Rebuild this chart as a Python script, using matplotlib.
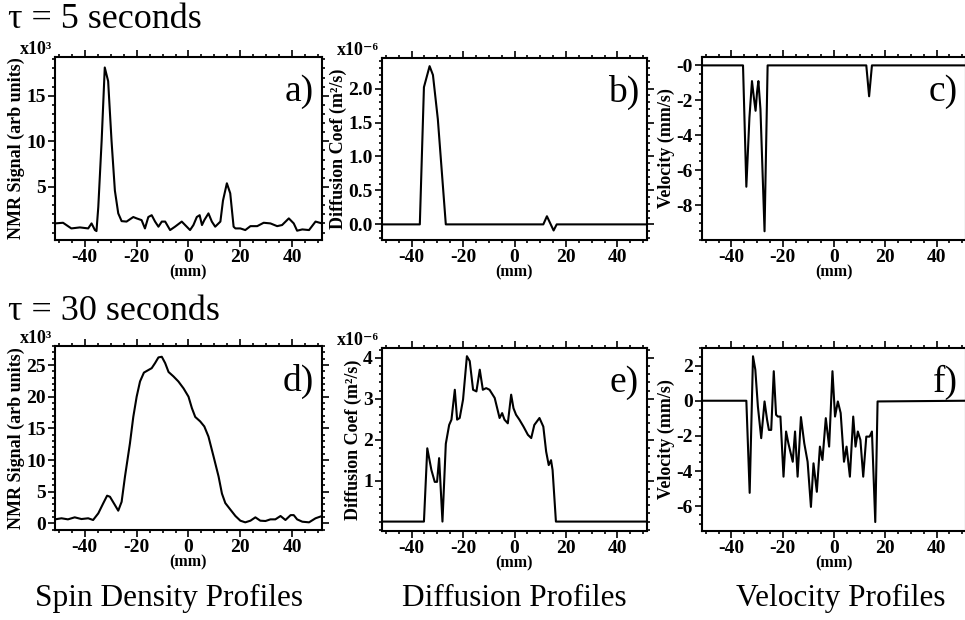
import matplotlib
matplotlib.use("Agg")
import matplotlib.pyplot as plt
from matplotlib.ticker import MultipleLocator

plt.rcParams['font.family'] = ['Liberation Serif', 'DejaVu Serif']
plt.rcParams['axes.unicode_minus'] = False

W, H = 965, 620
XLIM = (-51.5, 51.5)
x_ticks = [-40, -20, 0, 20, 40]
x_tick_labels = ["-40", "-20", "0", "20", "40"]

# ─── a) densidade de spin, tau = 5 s (x10^3) ─────────────────
a_x = [-51.5, -48.4, -45.2, -41.9, -38.7, -37.4, -36.1, -35.5, -34.8, -33.5, -32.3, -31.0,
       -29.7, -28.4, -27.1, -25.8, -23.9, -21.3, -20.0, -18.1, -16.8, -15.5, -14.2, -12.9,
       -11.6, -10.3, -9.0, -7.1, -5.2, -2.6, -1.3, 0.6, 1.9, 3.2, 4.3, 5.2, 6.1, 7.7, 9.0,
       10.3, 12.3, 13.3, 14.8, 16.1, 17.4, 18.1, 20.0, 21.9, 23.9, 26.5, 29.0, 31.6, 34.2,
       36.1, 38.7, 40.6, 41.9, 43.9, 46.5, 49.0, 51.5]
a_y = [1.0, 1.07, 0.45, 0.56, 0.45, 1.0, 0.27, 0.16, 2.8, 10.1, 18.1, 16.6,
       10.1, 4.6, 2.1, 1.25, 1.2, 1.7, 1.55, 1.36, 0.45, 1.7, 1.9, 1.2,
       0.64, 1.2, 1.2, 0.27, 0.64, 1.2, 0.82, 0.27, 0.82, 1.7, 1.9, 0.82, 1.36, 2.1, 1.2,
       0.64, 1.2, 3.5, 5.4, 4.3, 0.64, 0.45, 0.45, 0.27, 0.7, 0.7, 1.07, 1.0, 0.7,
       0.82, 1.55, 1.0, 0.2, 0.34, 0.27, 1.2, 1.0]

# ─── b) difusão, tau = 5 s (x10^-6) ──────────────────────────
b_x = [-51.5, -36.8, -35.2, -33.0, -31.7, -29.8, -26.7, 11.2, 12.6, 15.2, 16.4, 51.5]
b_y = [0.0, 0.0, 2.02, 2.33, 2.2, 1.55, 0.0, 0.0, 0.12, -0.09, 0.0, 0.0]

# ─── c) velocidade, tau = 5 s ────────────────────────────────
c_x = [-51.5, -35.5, -34.2, -33.0, -32.0, -31.3, -30.6, -30.0, -29.5, -28.7, -27.9,
       -27.1, -25.9, 12.6, 13.7, 14.8, 51.5]
c_y = [0.0, 0.0, -6.95, -3.0, -0.9, -1.8, -2.6, -1.5, -0.9, -2.5, -6.0,
       -9.5, 0.0, 0.0, -1.77, 0.0, 0.0]

# ─── d) densidade de spin, tau = 30 s (x10^3) ────────────────
d_x = [-51.5, -49.0, -46.5, -43.9, -41.3, -38.7, -36.8, -34.8, -32.9, -31.4, -30.3, -28.4,
       -27.1, -25.8, -24.5, -22.6, -21.3, -20.0, -18.7, -17.2, -15.5, -14.2, -12.9, -11.6,
       -10.3, -9.0, -7.7, -5.8, -3.9, -1.9, 0.0, 1.3, 2.6, 4.5, 6.1, 7.7, 9.7, 11.6, 12.9,
       14.2, 16.1, 18.1, 20.0, 21.9, 23.9, 25.8, 27.7, 29.7, 31.6, 33.5, 35.5, 37.4, 39.4,
       40.6, 41.9, 43.9, 46.5, 49.0, 51.5]
d_y = [0.63, 0.8, 0.63, 0.95, 0.68, 0.8, 0.53, 1.58, 3.16, 4.37, 4.2, 2.9,
       2.0, 3.4, 7.4, 12.6, 16.8, 20.0, 22.4, 23.8, 24.2, 24.5, 25.3, 26.2,
       26.3, 25.3, 23.9, 23.2, 22.4, 21.3, 20.0, 18.2, 16.8, 16.1, 15.3, 13.7, 10.5, 7.4, 4.7,
       3.2, 2.2, 1.16, 0.42, 0.16, 0.42, 0.95, 0.42, 0.37, 0.63, 0.63, 1.16, 0.53, 1.3,
       1.3, 0.63, 0.26, 0.16, 0.8, 1.16]

# ─── e) difusão, tau = 30 s (x10^-6) ─────────────────────────
e_x = [-51.5, -35.2, -33.9, -32.3, -31.0, -30.1, -29.3, -28.0, -26.7, -25.4, -24.5, -23.2,
       -22.3, -21.3, -20.0, -18.5, -17.4, -16.1, -14.8, -13.5, -12.3, -11.0, -9.7, -7.7,
       -5.8, -4.8, -3.9, -2.6, -1.3, -0.4, 0.6, 1.9, 3.5, 5.2, 6.5, 7.7, 9.7, 11.2, 12.3,
       13.3, 14.2, 14.8, 16.1, 51.5]
e_y = [0.0, 0.0, 1.79, 1.26, 0.97, 0.97, 1.55, 0.0, 1.9, 2.36, 2.49, 3.22,
       2.49, 2.53, 2.98, 4.04, 3.92, 3.22, 3.18, 3.71, 3.22, 3.26, 3.22, 3.02,
       2.53, 2.65, 2.49, 2.4, 3.1, 2.77, 2.61, 2.49, 2.32, 2.12, 2.04, 2.36, 2.53, 2.32, 1.71,
       1.38, 1.5, 1.26, 0.0, 0.0]

# ─── f) velocidade, tau = 30 s ───────────────────────────────
f_x = [-51.5, -34.2, -32.9, -31.6, -30.7, -29.7, -28.4, -27.1, -26.1, -25.4, -24.5, -23.5,
       -22.6, -21.9, -20.9, -19.7, -18.7, -17.8, -16.1, -15.2, -14.2, -12.9, -11.6, -10.3,
       -9.0, -8.0, -6.7, -5.5, -4.5, -3.2, -1.9, -0.6, 0.4, 1.5, 2.6, 3.9, 4.9, 6.2, 7.5,
       8.4, 9.3, 10.3, 11.4, 12.6, 13.9, 14.8, 16.1, 17.0, 51.5]
f_y = [0.0, 0.0, -5.24, 2.53, 1.77, -0.32, -2.13, -0.04, -1.09, -1.66, -1.66, 1.68,
       -0.8, -0.9, -0.9, -4.32, -1.75, -2.42, -3.47, -1.75, -4.32, -0.93, -2.42, -3.47,
       -6.04, -3.56, -5.18, -2.61, -3.37, -0.99, -2.61, 1.68, -0.9, -0.04, -0.7, -3.47, -2.61, -4.32, -0.9,
       -2.61, -1.75, -2.23, -4.32, -2.04, -2.04, -1.75, -6.9, -0.04, 0.0]

fig = plt.figure(figsize=(W / 100, H / 100), dpi=100)


def painel(rect, x, y, ylim, yticks, ylabels, yminor, ylabel, letra, escala=None):
    l, r, t, b = rect
    ax = fig.add_axes([l / W, 1 - b / H, (r - l) / W, (b - t) / H])
    ax.plot(x, y, color="black", lw=1.5)
    ax.set_xlim(*XLIM)
    ax.set_ylim(*ylim)
    ax.set_xticks(x_ticks)
    ax.set_xticklabels(x_tick_labels)
    ax.xaxis.set_minor_locator(MultipleLocator(5))
    ax.set_yticks(yticks)
    ax.set_yticklabels(ylabels)
    ax.yaxis.set_minor_locator(MultipleLocator(yminor))
    ax.tick_params(which="both", direction="out", top=True, right=True, width=1.2,
                   labelsize=14, pad=1.5)
    ax.tick_params(which="major", length=5)
    ax.tick_params(which="minor", length=2.5)
    for lab in ax.get_xticklabels() + ax.get_yticklabels():
        lab.set_fontweight("bold")
    ax.set_xlabel("(mm)", fontsize=11.5, fontweight="bold", labelpad=-1)
    ax.set_ylabel(ylabel, fontsize=13, fontweight="bold", labelpad=1)
    for s in ax.spines.values():
        s.set_linewidth(1.5)
    ax.text(0.97, 0.81, letra, transform=ax.transAxes, ha="right", va="center", fontsize=27)
    if escala:
        ax.text(-0.01, 0.995, escala, transform=ax.transAxes, ha="right", va="bottom",
                fontsize=13, fontweight="bold")
    return ax


painel((55, 322, 57, 240), a_x, a_y, (-0.82, 19.25), [5, 10, 15], ["5", "10", "15"], 1,
       "NMR Signal (arb units)", "a)", "x10³")
painel((382, 647, 58, 240), b_x, b_y, (-0.23, 2.45), [0, 0.5, 1, 1.5, 2],
       ["0.0", "0.5", "1.0", "1.5", "2.0"], 0.1, "Diffusion Coef (m²/s)", "b)", "x10⁻⁶")
painel((702, 966, 57, 240), c_x, c_y, (-10.0, 0.48), [-8, -6, -4, -2, 0],
       ["-8", "-6", "-4", "-2", "-0"], 0.5, "Velocity (mm/s)", "c)")
painel((55, 322, 346, 530), d_x, d_y, (-1.05, 28.0), [0, 5, 10, 15, 20, 25],
       ["0", "5", "10", "15", "20", "25"], 1, "NMR Signal (arb units)", "d)", "x10³")
painel((382, 647, 348, 531), e_x, e_y, (-0.23, 4.24), [1, 2, 3, 4],
       ["1", "2", "3", "4"], 0.2, "Diffusion Coef (m²/s)", "e)", "x10⁻⁶")
painel((702, 966, 348, 531), f_x, f_y, (-7.41, 3.0), [-6, -4, -2, 0, 2],
       ["-6", "-4", "-2", "0", "2"], 0.5, "Velocity (mm/s)", "f)")

fig.text(8 / W, 1 - 20 / H, "τ = 5 seconds", ha="left", va="center", fontsize=26)
fig.text(8 / W, 1 - 311 / H, "τ = 30 seconds", ha="left", va="center", fontsize=26)
for txt, cx in [("Spin Density Profiles", 169), ("Diffusion Profiles", 514),
                ("Velocity Profiles", 841)]:
    fig.text(cx / W, 1 - 598 / H, txt, ha="center", va="center", fontsize=22.5)

fig.savefig("out.png", dpi=100)
